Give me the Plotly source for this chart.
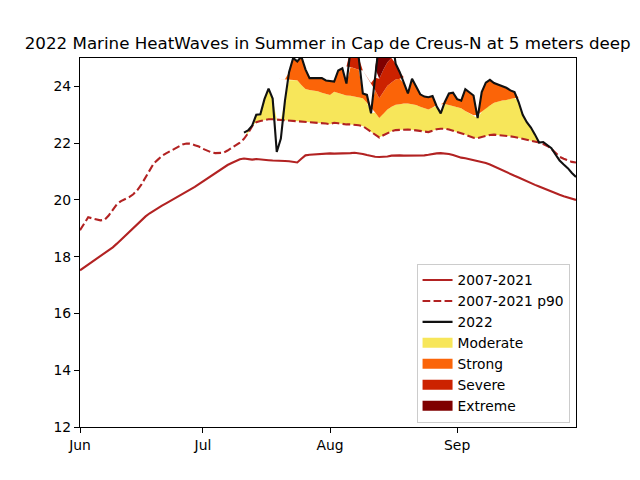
import numpy as np
import pandas as pd
import plotly.graph_objects as go

# ---------------- data (daily values, Jun 1 - Sep 30) ----------------
start_date = "2022-06-01"

clim_2007_2021 = [
    17.52, 17.62, 17.72, 17.82, 17.92, 18.02, 18.12, 18.22, 18.33, 18.46,
    18.60, 18.74, 18.87, 19.01, 19.14, 19.28, 19.42, 19.53, 19.63, 19.72,
    19.80, 19.88, 19.96, 20.05, 20.14, 20.22, 20.30, 20.38, 20.46, 20.56,
    20.66, 20.76, 20.86, 20.96, 21.06, 21.15, 21.23, 21.30, 21.37, 21.43,
    21.46, 21.44, 21.42, 21.44, 21.42, 21.40, 21.40, 21.39, 21.39, 21.38,
    21.37, 21.36, 21.34, 21.32, 21.45, 21.57, 21.59, 21.60, 21.61, 21.62,
    21.64, 21.64, 21.63, 21.63, 21.63, 21.64, 21.65, 21.66, 21.65, 21.62,
    21.58, 21.54, 21.52, 21.51, 21.51, 21.53, 21.56, 21.57, 21.57, 21.56,
    21.56, 21.57, 21.56, 21.56, 21.57, 21.59, 21.62, 21.64, 21.65, 21.64,
    21.62, 21.58, 21.53, 21.49, 21.47, 21.44, 21.40, 21.36, 21.33, 21.30,
    21.25, 21.18, 21.11, 21.04, 20.98, 20.92, 20.85, 20.79, 20.72, 20.65,
    20.60, 20.53, 20.47, 20.41, 20.34, 20.28, 20.23, 20.18, 20.13, 20.08,
    20.04, 20.00,
]

p90_2007_2021 = [
    18.93, 19.15, 19.39, 19.35, 19.31, 19.28, 19.30, 19.45, 19.65, 19.85,
    19.96, 20.02, 20.10, 20.20, 20.35, 20.55, 20.80, 21.05, 21.29, 21.42,
    21.55, 21.64, 21.72, 21.80, 21.88, 21.95, 21.99, 21.98, 21.93, 21.88,
    21.80, 21.73, 21.68, 21.65, 21.65, 21.66, 21.74, 21.83, 21.90, 22.02,
    22.15, 22.35, 22.60, 22.74, 22.78, 22.82, 22.84, 22.84, 22.83, 22.82,
    22.81, 22.79, 22.78, 22.77, 22.75, 22.74, 22.73, 22.73, 22.72, 22.70,
    22.69, 22.67, 22.72, 22.70, 22.67, 22.66, 22.66, 22.65, 22.63, 22.60,
    22.50, 22.40, 22.30, 22.20, 22.28, 22.36, 22.42, 22.46, 22.47, 22.48,
    22.48, 22.47, 22.45, 22.42, 22.40, 22.39, 22.44, 22.49, 22.51, 22.51,
    22.48, 22.44, 22.40, 22.36, 22.30, 22.24, 22.19, 22.18, 22.22, 22.27,
    22.29, 22.30, 22.29, 22.27, 22.25, 22.24, 22.22, 22.19, 22.16, 22.13,
    22.10, 22.07, 22.02, 21.97, 21.90, 21.80, 21.65, 21.52, 21.45, 21.40,
    21.34, 21.32,
]

# 2022 observations start on Jul 11
sst_2022_start = "2022-07-11"
sst_2022 = [
    22.37, 22.45, 22.62, 23.00, 23.02, 23.55, 23.92, 23.57, 21.69, 22.16,
    23.50, 24.50, 25.00, 24.88, 25.05, 24.60, 24.29, 24.29, 24.27, 24.29,
    24.21, 24.20, 24.17, 24.56, 24.64, 24.10, 25.30, 25.40, 25.00, 23.75,
    23.70, 23.05, 24.30, 25.60, 26.00, 26.00, 25.80, 24.80, 24.50, 24.10,
    23.75, 24.27, 24.00, 23.72, 23.64, 23.62, 23.66, 23.30, 23.05, 23.45,
    23.75, 23.78, 23.55, 23.50, 23.90, 23.80, 23.68, 22.88, 23.80, 24.13,
    24.23, 24.12, 24.07, 24.00, 23.95, 23.86, 23.80, 23.45, 23.00, 22.74,
    22.55, 22.30, 22.02, 22.04, 21.93, 21.82, 21.60, 21.39, 21.25, 21.12,
    20.95, 20.81,
]

# heatwave event window (days flagged as MHW)
event_start = "2022-07-12"
event_end = "2022-09-21"

categories = ["Moderate", "Strong", "Severe", "Extreme"]
category_colors = ["#f7e65a", "#fb6408", "#cc2200", "#7f0000"]

tick_vals = ["2022-06-01", "2022-07-01", "2022-08-01", "2022-09-01"]
tick_text = ["Jun", "Jul", "Aug", "Sep"]

title = "2022 Marine HeatWaves in Summer in Cap de Creus-N at 5 meters deep"

# ---------------- build ----------------
dates = pd.date_range(start_date, periods=len(clim_2007_2021), freq="D")
clim = np.array(clim_2007_2021)
p90 = np.array(p90_2007_2021)

sst_dates = pd.date_range(sst_2022_start, periods=len(sst_2022), freq="D")
sst = np.array(sst_2022)
off = (pd.Timestamp(sst_2022_start) - pd.Timestamp(start_date)).days
c_s = clim[off:off + len(sst)]
p_s = p90[off:off + len(sst)]
diff = p_s - c_s
in_event = (sst_dates >= pd.Timestamp(event_start)) & (sst_dates <= pd.Timestamp(event_end))

fig = go.Figure()

# category fills
for k, (name, col) in enumerate(zip(categories, category_colors)):
    lo = c_s + (k + 1) * diff
    hi = c_s + (k + 2) * diff if k < 3 else np.full_like(sst, np.inf)
    up = np.clip(sst, lo, hi)
    up = np.where(in_event, up, lo)
    fig.add_trace(go.Scatter(x=sst_dates, y=lo, mode="lines", line=dict(width=0),
                             showlegend=False, hoverinfo="skip"))
    fig.add_trace(go.Scatter(x=sst_dates, y=up, mode="lines", line=dict(width=0),
                             fill="tonexty", fillcolor=col, name=name,
                             showlegend=False))

fig.add_trace(go.Scatter(x=dates, y=clim, mode="lines", name="2007-2021",
                         line=dict(color="#b22222", width=2.1), legendrank=1))
fig.add_trace(go.Scatter(x=dates, y=p90, mode="lines", name="2007-2021 p90",
                         line=dict(color="#b22222", width=2.1, dash="7.7px,3.3px"),
                         legendrank=2))
fig.add_trace(go.Scatter(x=sst_dates, y=sst, mode="lines", name="2022",
                         line=dict(color="#111111", width=2.1), legendrank=3))

# legend patches for categories
for k, (name, col) in enumerate(zip(categories, category_colors)):
    fig.add_trace(go.Scatter(x=[None], y=[None], mode="lines", name=name,
                             line=dict(color=col, width=11), legendrank=10 + k))

axis_common = dict(showline=True, linecolor="black", linewidth=1.1, mirror=True,
                   ticks="outside", ticklen=5, tickcolor="black", tickwidth=1.1,
                   showgrid=False, zeroline=False,
                   tickfont=dict(size=13.9, color="black"))

fig.update_layout(
    width=640, height=480,
    margin=dict(l=80, r=64, t=58, b=53),
    paper_bgcolor="white", plot_bgcolor="white",
    font=dict(family="DejaVu Sans", color="black"),
    title=dict(text=title, x=0.512, xanchor="center", y=0.91, yanchor="middle",
               font=dict(size=16.7, color="black")),
    xaxis=dict(range=["2022-06-01", "2022-09-30"], tickvals=tick_vals,
               ticktext=tick_text, **axis_common),
    yaxis=dict(range=[12, 25], tick0=12, dtick=2, **axis_common),
    legend=dict(x=0.987, y=0.012, xanchor="right", yanchor="bottom",
                bgcolor="rgba(255,255,255,0.8)", bordercolor="#cccccc", borderwidth=1,
                font=dict(size=13.8), tracegroupgap=0, traceorder="normal"),
    showlegend=True,
)

fig.write_html("out.html", config={"displayModeBar": False},
               post_script="document.body.style.margin='0';")
